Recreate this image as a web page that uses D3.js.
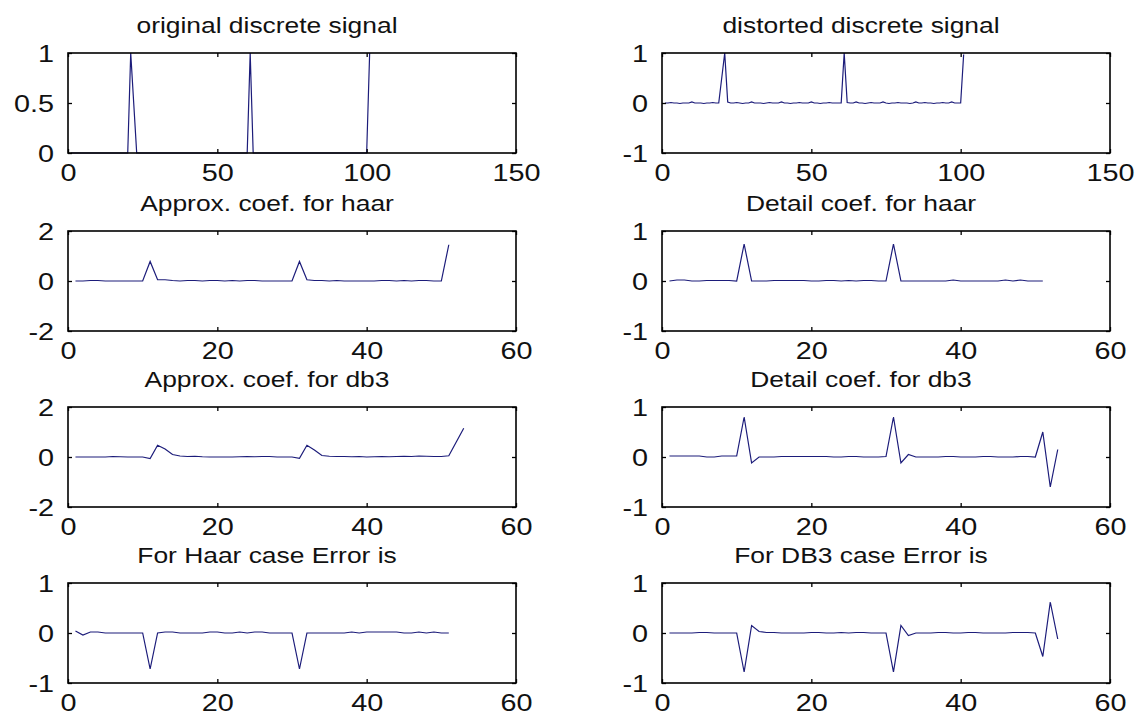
<!DOCTYPE html>
<html>
<head>
<meta charset="utf-8">
<script src="https://cdn.jsdelivr.net/npm/d3@7"></script>
<style>
  html, body { margin: 0; padding: 0; background: #fff; }
  svg { display: block; }
  text { font-family: "Liberation Sans", Arial, Helvetica, sans-serif; fill: #111; }
</style>
</head>
<body>
<svg id="fig" width="1146" height="715"></svg>
<script>
// ---- signals (sample index starts at 1) ----
const originalSignal = [
  0, 0, 0, 0, 0, 0, 0, 0, 0, 0,
  0, 0, 0, 0, 0, 0, 0, 0, 0, 0,
  1, 0.5, 0, 0, 0, 0, 0, 0, 0, 0,
  0, 0, 0, 0, 0, 0, 0, 0, 0, 0,
  0, 0, 0, 0, 0, 0, 0, 0, 0, 0,
  0, 0, 0, 0, 0, 0, 0, 0, 0, 0,
  1, 0, 0, 0, 0, 0, 0, 0, 0, 0,
  0, 0, 0, 0, 0, 0, 0, 0, 0, 0,
  0, 0, 0, 0, 0, 0, 0, 0, 0, 0,
  0, 0, 0, 0, 0, 0, 0, 0, 0, 0,
  1
];

const distortedSignal = [
  0, 0, 0.01, 0, 0, -0.01, 0, 0, 0, 0.02,
  0, 0, 0, -0.01, 0, 0, 0.01, 0, 0, 0.5,
  1, 0.02, 0, 0, 0.01, 0, -0.01, 0, 0, 0.02,
  0, 0, 0, -0.01, 0, 0.01, 0, 0, 0, 0.02,
  0, 0, -0.01, 0, 0, 0.01, 0, 0, 0, 0.02,
  0, 0, -0.01, 0, 0, 0.01, 0, 0, 0, 0,
  1, 0.01, 0, 0, 0.02, 0, 0, -0.01, 0, 0.01,
  0, 0, 0, 0.02, 0, -0.01, 0, 0, 0.01, 0,
  0, 0, -0.01, 0, 0.02, 0, 0, 0.01, 0, 0,
  -0.01, 0, 0, 0.01, 0, 0, 0.02, 0, 0, 0,
  0.97
];

const approxHaar = [
  0, 0, 0.02, 0.02, 0, 0, 0, 0, 0, 0,
  0.78, 0.05, 0.05, 0.02, 0, 0.02, 0.02, 0, 0.02, 0.02,
  0, 0.02, 0, 0.02, 0.02, 0, 0, 0, 0, 0,
  0.78, 0.05, 0.02, 0.02, 0, 0.02, 0, 0, 0, 0,
  0, 0.02, 0.02, 0, 0.02, 0, 0.02, 0.02, 0, 0,
  1.45
];

const detailHaar = [
  0, 0.02, 0.02, 0, 0, 0.01, 0.01, 0.01, 0.01, 0,
  0.74, 0, 0, 0, 0.01, 0.01, 0.01, 0.01, 0.01, 0,
  0, 0.01, 0.01, 0, 0.01, 0, 0.01, 0.01, 0, 0,
  0.74, 0, 0, 0, 0, 0, 0, 0, 0.02, 0,
  0, 0, 0, 0, 0, 0.02, 0, 0.02, 0, 0,
  0
];

const approxDb3 = [
  0, 0, 0, 0, 0, 0.02, 0.01, 0, 0, 0,
  -0.06, 0.47, 0.32, 0.1, 0.04, 0.02, 0.03, 0.01, 0, 0,
  0, 0, 0.01, 0.02, 0.01, 0.02, 0.02, 0, 0, 0,
  -0.05, 0.47, 0.28, 0.06, 0.03, 0.02, 0.02, 0.01, 0.02, 0,
  0.01, 0.02, 0.01, 0.02, 0.03, 0.02, 0.04, 0.03, 0.02, 0.02,
  0.05, 0.6, 1.15
];

const detailDb3 = [
  0.02, 0.02, 0.02, 0.02, 0.02, 0, 0, 0.02, 0.02, 0.02,
  0.8, -0.12, 0, 0, 0, 0.01, 0.01, 0.01, 0.01, 0.01,
  0.01, 0.01, 0, 0, 0.01, 0.01, 0, 0, 0, 0.01,
  0.8, -0.12, 0.05, 0, 0, 0, 0, 0.01, 0.01, 0,
  0, 0, 0.01, 0.01, 0, 0, 0, 0.01, 0.01, 0,
  0.5, -0.6, 0.15
];

const errorHaar = [
  0.04, -0.04, 0.02, 0.02, 0, 0, 0, 0, 0, 0,
  -0.72, 0, 0.02, 0.02, 0, 0, 0, 0, 0.02, 0.02,
  0, 0, 0.02, 0, 0.02, 0.02, 0, 0, 0, 0,
  -0.72, 0, 0, 0, 0, 0, 0, 0.02, 0, 0.02,
  0.02, 0.02, 0.02, 0.02, 0, 0, 0.02, 0, 0.02, 0,
  0
];

const errorDb3 = [
  0, 0, 0, 0, 0.01, 0.01, 0, 0, 0, 0,
  -0.78, 0.15, 0.03, 0.01, 0.01, 0, 0, 0, 0, 0.01,
  0.01, 0, 0, 0.01, 0, 0.01, 0.01, 0, 0, 0,
  -0.78, 0.15, -0.05, 0, 0, 0, 0.01, 0.01, 0, 0,
  0.01, 0.01, 0, 0, 0, 0, 0.01, 0.01, 0.01, 0,
  -0.47, 0.62, -0.12
];

// ---- titles and axis ticks ----
const panelTitles = [
  "original discrete signal", "distorted discrete signal",
  "Approx. coef. for haar", "Detail coef. for haar",
  "Approx. coef. for db3", "Detail coef. for db3",
  "For Haar case Error is", "For DB3 case Error is"
];
const xTicksSignal = [0, 50, 100, 150];
const xTicksCoef = [0, 20, 40, 60];
const yTicksUnit = [0, 0.5, 1];
const yTicksSym1 = [-1, 0, 1];
const yTicksSym2 = [-2, 0, 2];

const series = [originalSignal, distortedSignal, approxHaar, detailHaar,
                approxDb3, detailDb3, errorHaar, errorDb3];
const xTickSets = [xTicksSignal, xTicksSignal, xTicksCoef, xTicksCoef,
                   xTicksCoef, xTicksCoef, xTicksCoef, xTicksCoef];
const yTickSets = [yTicksUnit, yTicksSym1, yTicksSym2, yTicksSym1,
                   yTicksSym2, yTicksSym1, yTicksSym1, yTicksSym1];

// ---- layout: 4 x 2 grid of axes ----
const cols = [{ x0: 68, x1: 516 }, { x0: 662, x1: 1110 }];
const rows = [{ y0: 53, y1: 153 }, { y0: 231, y1: 331 },
              { y0: 407, y1: 507 }, { y0: 583, y1: 683 }];
const titleShift = -25;  // titles sit a little left of the axes centre
const lineColor = "#1c1c7a";
const stretch = 1.2;     // horizontal stretch of the lettering

const svg = d3.select("#fig");
svg.append("rect").attr("width", 1146).attr("height", 715).attr("fill", "#fff");

series.forEach((vals, i) => {
  const c = cols[i % 2], r = rows[Math.floor(i / 2)];
  const xt = xTickSets[i], yt = yTickSets[i];
  const x = d3.scaleLinear().domain([xt[0], xt[xt.length - 1]]).range([c.x0, c.x1]);
  const y = d3.scaleLinear().domain([yt[0], yt[yt.length - 1]]).range([r.y1, r.y0]);
  const g = svg.append("g");

  // signal trace
  const line = d3.line().x((d, k) => x(k + 1)).y(d => y(d));
  g.append("path").datum(vals)
    .attr("d", line)
    .attr("fill", "none")
    .attr("stroke", lineColor)
    .attr("stroke-width", 1.2)
    .attr("stroke-linejoin", "miter");

  const fmt = d => String(d);

  // inward tick marks on all four sides
  const bottom = g.append("g").attr("transform", `translate(0,${r.y1})`)
    .call(d3.axisBottom(x).tickValues(xt).tickSize(-4).tickFormat(fmt));
  const top = g.append("g").attr("transform", `translate(0,${r.y0})`)
    .call(d3.axisTop(x).tickValues(xt).tickSize(-4).tickFormat(""));
  const left = g.append("g").attr("transform", `translate(${c.x0},0)`)
    .call(d3.axisLeft(y).tickValues(yt).tickSize(-4).tickFormat(fmt));
  const right = g.append("g").attr("transform", `translate(${c.x1},0)`)
    .call(d3.axisRight(y).tickValues(yt).tickSize(-4).tickFormat(""));

  [bottom, top, left, right].forEach(a => {
    a.select(".domain").remove();
    a.selectAll("line").attr("stroke", "#000").attr("stroke-width", 1.3);
  });

  bottom.selectAll("text")
    .attr("x", 0).attr("y", 0).attr("dy", null)
    .attr("text-anchor", "middle")
    .attr("font-size", 24)
    .attr("fill", "#111")
    .attr("transform", `translate(0,27.5) scale(${stretch},1)`);

  left.selectAll("text")
    .attr("x", 0).attr("y", 0).attr("dy", null)
    .attr("text-anchor", "end")
    .attr("font-size", 24)
    .attr("fill", "#111")
    .attr("transform", `translate(-14,8.5) scale(${stretch},1)`);

  // axes box
  g.append("rect")
    .attr("x", c.x0).attr("y", r.y0)
    .attr("width", c.x1 - c.x0).attr("height", r.y1 - r.y0)
    .attr("fill", "none").attr("stroke", "#000").attr("stroke-width", 1.6);

  // title
  g.append("text")
    .attr("text-anchor", "middle")
    .attr("font-size", 22)
    .attr("transform", `translate(${(c.x0 + c.x1) / 2 + titleShift},${r.y0 - 20}) scale(${stretch},1)`)
    .text(panelTitles[i]);
});
</script>
</body>
</html>
